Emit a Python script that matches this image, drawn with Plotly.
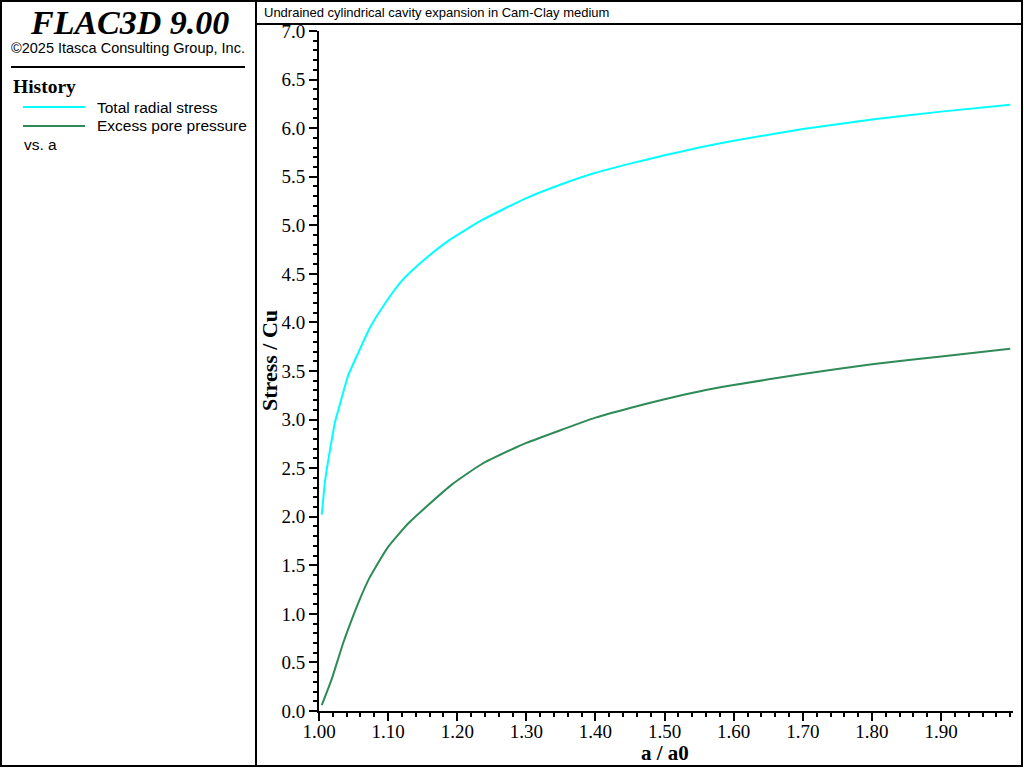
import plotly.graph_objects as go

# ---------------- data ----------------
a_total = [1.004, 1.009, 1.016, 1.023, 1.030, 1.042, 1.057, 1.074, 1.096, 1.120,
           1.153, 1.187, 1.235, 1.300, 1.350, 1.400, 1.450, 1.500, 1.550, 1.600,
           1.700, 1.800, 1.900, 2.000]
total_radial_stress = [2.02, 2.38, 2.69, 2.97, 3.15, 3.45, 3.69, 3.95, 4.20, 4.43,
                       4.65, 4.84, 5.05, 5.28, 5.42, 5.54, 5.635, 5.72, 5.80, 5.87,
                       5.99, 6.09, 6.17, 6.24]

a_pore = [1.004, 1.018, 1.035, 1.050, 1.059, 1.073, 1.081, 1.100, 1.129, 1.158,
          1.192, 1.235, 1.284, 1.300, 1.400, 1.450, 1.500, 1.550, 1.600, 1.700,
          1.800, 1.900, 2.000]
excess_pore_pressure = [0.06, 0.32, 0.70, 0.99, 1.15, 1.37, 1.47, 1.69, 1.93, 2.12,
                        2.33, 2.54, 2.71, 2.76, 3.02, 3.12, 3.21, 3.29, 3.355, 3.47,
                        3.57, 3.65, 3.73]

x_tickvals = [1.00, 1.10, 1.20, 1.30, 1.40, 1.50, 1.60, 1.70, 1.80, 1.90]
y_tickvals = [0.0, 0.5, 1.0, 1.5, 2.0, 2.5, 3.0, 3.5, 4.0, 4.5, 5.0, 5.5, 6.0, 6.5, 7.0]

series_names = ["Total radial stress", "Excess pore pressure"]
series_colors = ["#00FFFF", "#2E8B57"]

# ---------------- layout geometry (pixels) ----------------
W, H = 1024, 768
L, R, T, B = 319, 11, 31, 57
PW, PH = W - L - R, H - T - B


def px(x):
    return (x - L) / PW


def py(y):
    return (H - B - y) / PH


SERIF = "Liberation Serif, Times New Roman, serif"
SANS = "Liberation Sans, Arial, sans-serif"

fig = go.Figure()
fig.add_trace(go.Scatter(x=a_total, y=total_radial_stress, mode="lines",
                         name=series_names[0],
                         line=dict(color=series_colors[0], width=2, shape="spline", smoothing=0.5),
                         showlegend=False))
fig.add_trace(go.Scatter(x=a_pore, y=excess_pore_pressure, mode="lines",
                         name=series_names[1],
                         line=dict(color=series_colors[1], width=2, shape="spline", smoothing=0.5),
                         showlegend=False))

axis_common = dict(showgrid=False, zeroline=False, showline=True, linecolor="black", linewidth=2,
                   ticks="outside", ticklen=8, tickwidth=2, tickcolor="black",
                   tickfont=dict(family=SERIF, size=19, color="black"))

fig.update_xaxes(range=[1.0, 2.004], tickvals=x_tickvals, tickformat=".2f", ticklabelstandoff=-6,
                 minor=dict(dtick=0.02, tick0=1.0, ticklen=4, tickwidth=2, tickcolor="black", ticks="outside"),
                 **axis_common)
fig.update_yaxes(range=[0.0, 7.0], tickvals=y_tickvals, tickformat=".1f",
                 minor=dict(dtick=0.1, tick0=0.0, ticklen=4, tickwidth=2, tickcolor="black", ticks="outside"),
                 **axis_common)

shapes = []
# outer border
shapes.append(dict(type="rect", xref="paper", yref="paper", x0=px(1), x1=px(1022), y0=py(1), y1=py(766),
                   line=dict(color="black", width=2)))
# left panel divider
shapes.append(dict(type="line", xref="paper", yref="paper", x0=px(256), x1=px(256), y0=py(0), y1=py(767),
                   line=dict(color="black", width=2)))
# title bar line
shapes.append(dict(type="line", xref="paper", yref="paper", x0=px(256), x1=px(1023), y0=py(24), y1=py(24),
                   line=dict(color="black", width=2)))
# separator under copyright
shapes.append(dict(type="line", xref="paper", yref="paper", x0=px(11), x1=px(245), y0=py(67), y1=py(67),
                   line=dict(color="black", width=2)))
# legend swatches
for i, c in enumerate(series_colors):
    yy = 107 + 19 * i
    shapes.append(dict(type="line", xref="paper", yref="paper", x0=px(23), x1=px(85), y0=py(yy), y1=py(yy),
                       line=dict(color=c, width=2)))

annotations = [
    dict(text="<b><i>FLAC3D 9.00</i></b>", x=px(129), y=py(22), font=dict(family=SERIF, size=34, color="black"),
         xanchor="center", yanchor="middle"),
    dict(text="©2025 Itasca Consulting Group, Inc.", x=px(128), y=py(48),
         font=dict(family=SANS, size=14.5, color="black"), xanchor="center", yanchor="middle"),
    dict(text="<b>History</b>", x=px(11), y=py(86), font=dict(family=SERIF, size=19.5, color="black"),
         xanchor="left", yanchor="middle"),
    dict(text=series_names[0], x=px(95), y=py(107), font=dict(family=SANS, size=15.5, color="black"),
         xanchor="left", yanchor="middle"),
    dict(text=series_names[1], x=px(95), y=py(126), font=dict(family=SANS, size=15.5, color="black"),
         xanchor="left", yanchor="middle"),
    dict(text="vs. a", x=px(22), y=py(145), font=dict(family=SANS, size=15.5, color="black"),
         xanchor="left", yanchor="middle"),
    dict(text="Undrained cylindrical cavity expansion in Cam-Clay medium", x=px(262), y=py(12),
         font=dict(family=SANS, size=13, color="black"), xanchor="left", yanchor="middle"),
    dict(text="<b>a / a0</b>", x=px(665), y=py(753), font=dict(family=SERIF, size=21, color="black"),
         xanchor="center", yanchor="middle"),
    dict(text="<b>Stress / Cu</b>", x=px(269), y=py(361), textangle=-90,
         font=dict(family=SERIF, size=22, color="black"), xanchor="center", yanchor="middle"),
]
for an in annotations:
    an.update(xref="paper", yref="paper", showarrow=False)

fig.update_layout(width=W, height=H, margin=dict(l=L, r=R, t=T, b=B, pad=0),
                  paper_bgcolor="white", plot_bgcolor="white",
                  shapes=shapes, annotations=annotations, showlegend=False)

fig.write_html("out.html", config={"displayModeBar": False},
               post_script="document.body.style.margin='0px';document.body.style.overflow='hidden';")
